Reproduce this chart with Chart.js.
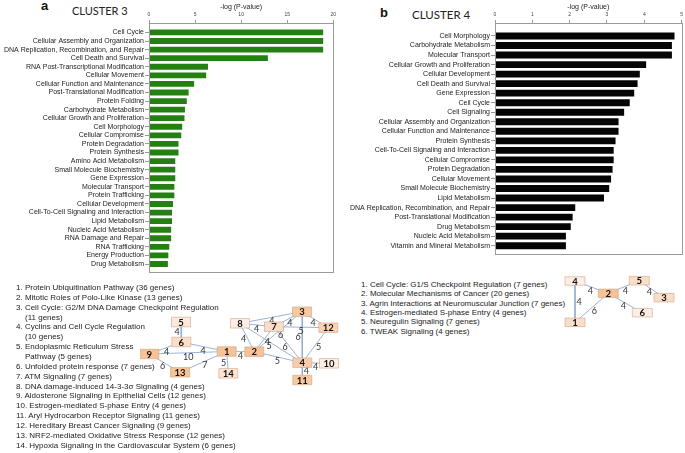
<!DOCTYPE html>
<html>
<head>
<meta charset="utf-8">
<script src="https://cdn.jsdelivr.net/npm/chart.js@4.4.1/dist/chart.umd.min.js"></script>
<style>
  html, body { margin: 0; padding: 0; background: #fff; }
  #page { position: relative; width: 685px; height: 453px; overflow: hidden; font-family: "Liberation Sans", Arial, sans-serif; color: #222; }
  canvas { position: absolute; }
  .letter { position: absolute; font-weight: bold; font-size: 13px; line-height: 1; color: #111; }
  .cluster { position: absolute; font-family: Lato, sans-serif; font-size: 11px; line-height: 1; color: #222; }
  .list { position: absolute; font-size: 8px; color: #222; white-space: nowrap; }
  .list div { padding-left: 9px; text-indent: -9px; }
</style>
</head>
<body>
<div id="page">
  <div class="letter" style="left:41px;top:-1px;">a</div>
  <div class="cluster" style="left:72px;top:5px;">CLUSTER 3</div>
  <div class="letter" style="left:380px;top:6px;">b</div>
  <div class="cluster" style="left:412px;top:9px;font-size:11.5px;">CLUSTER 4</div>

  <canvas id="barA" width="345" height="285" style="left:0;top:0;"></canvas>
  <canvas id="barB" width="340" height="265" style="left:345px;top:0;"></canvas>

  <div class="list" style="left:16px;top:283px;line-height:9.86px;">
    <div>1. Protein Ubiquitination Pathway (36 genes)</div>
    <div>2. Mitotic Roles of Polo-Like Kinase (13 genes)</div>
    <div>3. Cell Cycle: G2/M DNA Damage Checkpoint Regulation<br>(11 genes)</div>
    <div>4. Cyclins and Cell Cycle Regulation<br>(10 genes)</div>
    <div>5. Endoplasmic Reticulum Stress<br>Pathway (5 genes)</div>
    <div>6. Unfolded protein response (7 genes)</div>
    <div>7. ATM Signaling (7 genes)</div>
    <div>8. DNA damage-induced 14-3-3σ Signaling (4 genes)</div>
    <div>9. Aldosterone Signaling in Epithelial Cells (12 genes)</div>
    <div>10. Estrogen-mediated S-phase Entry (4 genes)</div>
    <div>11. Aryl Hydrocarbon Receptor Signaling (11 genes)</div>
    <div>12. Hereditary Breast Cancer Signaling (9 genes)</div>
    <div>13. NRF2-mediated Oxidative Stress Response (12 genes)</div>
    <div>14. Hypoxia Signaling in the Cardiovascular System (6 genes)</div>
  </div>

  <div class="list" style="left:361px;top:280px;line-height:9.33px;">
    <div>1. Cell Cycle: G1/S Checkpoint Regulation (7 genes)</div>
    <div>2. Molecular Mechanisms of Cancer (20 genes)</div>
    <div>3. Agrin Interactions at Neuromuscular Junction (7 genes)</div>
    <div>4. Estrogen-mediated S-phase Entry (4 genes)</div>
    <div>5. Neuregulin Signaling (7 genes)</div>
    <div>6. TWEAK Signaling (4 genes)</div>
  </div>

  <canvas id="net" width="545" height="125" style="left:140px;top:270px;pointer-events:none;"></canvas>
</div>

<script>
// ---- cluster 3 (panel a) ----
const cluster3Labels = [
  'Cell Cycle', 'Cellular Assembly and Organization', 'DNA Replication, Recombination, and Repair',
  'Cell Death and Survival', 'RNA Post-Transcriptional Modification', 'Cellular Movement',
  'Cellular Function and Maintenance', 'Post-Translational Modification', 'Protein Folding',
  'Carbohydrate Metabolism', 'Cellular Growth and Proliferation', 'Cell Morphology',
  'Cellular Compromise', 'Protein Degradation', 'Protein Synthesis', 'Amino Acid Metabolism',
  'Small Molecule Biochemistry', 'Gene Expression', 'Molecular Transport', 'Protein Trafficking',
  'Cellular Development', 'Cell-To-Cell Signaling and Interaction', 'Lipid Metabolism',
  'Nucleic Acid Metabolism', 'RNA Damage and Repair', 'RNA Trafficking', 'Energy Production',
  'Drug Metabolism'
];
const cluster3Values = [
  18.9, 18.9, 18.9, 12.9, 6.4, 6.2, 4.9, 4.3, 4.1, 3.9, 3.85, 3.6, 3.5, 3.2, 3.2,
  2.85, 2.85, 2.85, 2.75, 2.75, 2.6, 2.5, 2.5, 2.4, 2.4, 2.2, 2.1, 2.05
];
const cluster3Max = 20;
const cluster3Step = 5;

// ---- cluster 4 (panel b) ----
const cluster4Labels = [
  'Cell Morphology', 'Carbohydrate Metabolism', 'Molecular Transport',
  'Cellular Growth and Proliferation', 'Cellular Development', 'Cell Death and Survival',
  'Gene Expression', 'Cell Cycle', 'Cell Signaling', 'Cellular Assembly and Organization',
  'Cellular Function and Maintenance', 'Protein Synthesis', 'Cell-To-Cell Signaling and Interaction',
  'Cellular Compromise', 'Protein Degradation', 'Cellular Movement', 'Small Molecule Biochemistry',
  'Lipid Metabolism', 'DNA Replication, Recombination, and Repair', 'Post-Translational Modification',
  'Drug Metabolism', 'Nucleic Acid Metabolism', 'Vitamin and Mineral Metabolism'
];
const cluster4Values = [
  4.81, 4.74, 4.74, 4.05, 3.88, 3.82, 3.73, 3.61, 3.46, 3.31, 3.31, 3.23, 3.18,
  3.18, 3.15, 3.11, 3.06, 2.92, 2.15, 2.08, 2.03, 1.9, 1.9
];
const cluster4Max = 5;
const cluster4Step = 1;

// ---- pathway networks ----
const netAIds = [1, 2, 3, 4, 5, 6, 7, 8, 9, 10, 11, 12, 13, 14];
const netAGenes = [36, 13, 11, 10, 5, 7, 7, 4, 12, 4, 11, 9, 12, 6];
const netAEdges = [
  [5, 6, 4], [6, 9, 4], [6, 1, 4], [9, 1, 10], [9, 13, 6], [13, 1, 7], [1, 14, 5],
  [1, 2, 4], [8, 2, 4], [8, 7, 4], [8, 3, 4], [8, 4, 5], [7, 3, 4], [7, 2, 4],
  [3, 2, 6], [7, 12, 5], [7, 4, 6], [3, 12, 4], [3, 4, 6], [12, 4, 5], [2, 4, 5],
  [4, 10, 4], [4, 11, 4]
];
const netBIds = [1, 2, 3, 4, 5, 6];
const netBGenes = [7, 20, 7, 4, 7, 4];
const netBEdges = [[4, 1, 4], [4, 2, 4], [1, 2, 6], [2, 5, 4], [2, 6, 4], [5, 3, 4]];

// node placement (page pixels)
const layoutA = {
  1: [226.7, 351.5], 2: [254.3, 351.7], 3: [302, 311.7], 4: [302.3, 362.7],
  5: [181, 322], 6: [181.3, 342], 7: [274, 326.7], 8: [240, 323.3],
  9: [149.3, 354], 10: [329, 363.3], 11: [302.3, 380], 12: [328.3, 327.7],
  13: [180, 372.3], 14: [228.3, 373.3]
};
const layoutB = {
  1: [575, 322.3], 2: [608.3, 293.3], 3: [664, 297.7], 4: [575, 281],
  5: [639.3, 280.7], 6: [642.3, 312.7]
};

Chart.defaults.font.family = '"Liberation Sans", Arial, sans-serif';

const boxPlugin = {
  id: 'box',
  afterDraw(chart) {
    const { ctx, chartArea: a } = chart;
    ctx.save();
    ctx.strokeStyle = '#9a9a9a';
    ctx.lineWidth = 1;
    ctx.strokeRect(Math.round(a.left) + 0.5, Math.round(a.top) + 0.5,
      Math.round(a.right - a.left), Math.round(a.bottom - a.top));
    ctx.restore();
  }
};

function barChart(id, labels, values, max, step, color, yMin, yMax, axisW, pad, barPct) {
  return new Chart(document.getElementById(id), {
    type: 'bar',
    data: {
      datasets: [{
        data: values.map((v, i) => ({ x: v, y: i })),
        backgroundColor: color,
        borderWidth: 0,
        barPercentage: barPct,
        categoryPercentage: 1
      }]
    },
    options: {
      indexAxis: 'y',
      responsive: false,
      animation: false,
      layout: { padding: pad },
      plugins: { legend: { display: false }, tooltip: { enabled: false } },
      scales: {
        x: {
          type: 'linear', position: 'top', min: 0, max: max,
          ticks: { stepSize: step, font: { size: 5 }, color: '#444', padding: 2 },
          grid: { drawOnChartArea: false, tickLength: 3, color: '#999' },
          border: { color: '#9a9a9a' },
          title: { display: true, text: '-log (P-value)', font: { size: 7 }, color: '#222', padding: { top: 3, bottom: 0 } },
          afterFit: s => { s.height = 23; }
        },
        y: {
          type: 'linear', reverse: true, min: yMin, max: yMax, offset: false,
          afterBuildTicks: s => { s.ticks = labels.map((_, i) => ({ value: i })); },
          ticks: { autoSkip: false, callback: v => labels[v], font: { size: 7 }, color: '#222', padding: 1 },
          grid: { drawOnChartArea: false, offset: false, tickLength: 4, color: '#999' },
          border: { color: '#9a9a9a' },
          afterFit: s => { s.width = axisW; }
        }
      }
    },
    plugins: [boxPlugin]
  });
}

barChart('barA', cluster3Labels, cluster3Values, cluster3Max, cluster3Step, '#238111',
  -1.1, 27.93, 149, { left: 0, right: 11.7, top: 0, bottom: 13 }, 0.68);
barChart('barB', cluster4Labels, cluster4Values, cluster4Max, cluster4Step, '#050505',
  -1.36, 22.87, 150, { left: 0, right: 3.3, top: 0, bottom: 11 }, 0.72);

// ---- networks ----
function nodeColor(genes) {
  const t = Math.max(0, Math.min(1, (genes - 4) / 8));
  const lo = [253, 239, 230], hi = [247, 194, 149];
  const c = lo.map((l, k) => Math.round(l + (hi[k] - l) * t));
  return `rgb(${c[0]},${c[1]},${c[2]})`;
}

const networks = [
  { ids: netAIds, genes: netAGenes, edges: netAEdges, pos: layoutA, w: 19, h: 9.5 },
  { ids: netBIds, genes: netBGenes, edges: netBEdges, pos: layoutB, w: 20, h: 8.5 }
];

const edgeSets = [];
networks.forEach(n => {
  n.edges.forEach(([a, b]) => {
    edgeSets.push({
      data: [{ x: n.pos[a][0], y: n.pos[a][1] }, { x: n.pos[b][0], y: n.pos[b][1] }],
      showLine: true, pointRadius: 0, borderColor: '#8eaad8', borderWidth: 0.9
    });
  });
});

const netPlugin = {
  id: 'netNodes',
  afterDatasetsDraw(chart) {
    const { ctx, scales: { x, y } } = chart;
    ctx.save();
    // weight labels
    ctx.font = '9px Lato, sans-serif';
    ctx.fillStyle = '#333';
    ctx.textAlign = 'center';
    ctx.textBaseline = 'middle';
    networks.forEach(n => {
      n.edges.forEach(([a, b, w]) => {
        const x1 = x.getPixelForValue(n.pos[a][0]), y1 = y.getPixelForValue(n.pos[a][1]);
        const x2 = x.getPixelForValue(n.pos[b][0]), y2 = y.getPixelForValue(n.pos[b][1]);
        const len = Math.hypot(x2 - x1, y2 - y1) || 1;
        let nx = -(y2 - y1) / len, ny = (x2 - x1) / len;
        if (ny < 0 || (ny === 0 && nx < 0)) { nx = -nx; ny = -ny; }
        ctx.fillText(String(w), (x1 + x2) / 2 + nx * 4, (y1 + y2) / 2 + ny * 4);
      });
    });
    // nodes
    networks.forEach(n => {
      n.ids.forEach((id, i) => {
        const px = x.getPixelForValue(n.pos[id][0]), py = y.getPixelForValue(n.pos[id][1]);
        ctx.fillStyle = nodeColor(n.genes[i]);
        ctx.strokeStyle = 'rgba(205,160,125,0.7)';
        ctx.lineWidth = 0.8;
        ctx.beginPath();
        ctx.rect(px - n.w / 2, py - n.h / 2, n.w, n.h);
        ctx.fill();
        ctx.stroke();
        ctx.fillStyle = '#111';
        ctx.font = 'bold 9.5px Lato, sans-serif';
        ctx.fillText(String(id), px, py + 0.5);
      });
    });
    ctx.restore();
  }
};

new Chart(document.getElementById('net'), {
  type: 'scatter',
  data: { datasets: edgeSets },
  options: {
    responsive: false,
    animation: false,
    layout: { padding: 0 },
    plugins: { legend: { display: false }, tooltip: { enabled: false } },
    scales: {
      x: { type: 'linear', min: 140, max: 685, display: false },
      y: { type: 'linear', min: 270, max: 395, reverse: true, display: false }
    }
  },
  plugins: [netPlugin]
});
</script>
</body>
</html>
